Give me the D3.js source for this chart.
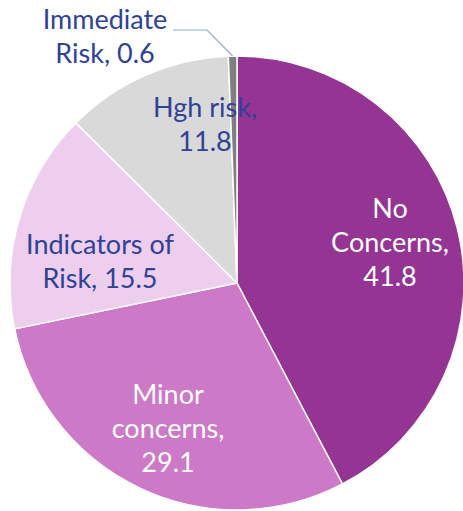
<!DOCTYPE html>
<html><head><meta charset="utf-8">
<script src="https://cdn.jsdelivr.net/npm/d3@7"></script>
<style>body{margin:0;background:#fff}svg{display:block}</style>
</head><body>
<svg id="c" width="463" height="511"></svg>
<script>
const categories = ["No Concerns", "Minor concerns", "Indicators of Risk", "Hgh risk", "Immediate Risk"];
const values = [41.8, 29.1, 15.5, 11.8, 0.6];
const labelLines = [["No", "Concerns,", "41.8"], ["Minor", "concerns,", "29.1"], ["Indicators of", "Risk, 15.5"], ["Hgh risk,", "11.8"], ["Immediate", "Risk, 0.6"]];
const colors = ["#953593", "#CC79C8", "#EDCEEC", "#D9D9D9", "#7F7F7F"];
const textColors = ["#ffffff", "#ffffff", "#2F4296", "#2F4296", "#2F4296"];

const svg = d3.select("#c");
const cx = 237, cy = 283, R = 227;
const g = svg.append("g").attr("transform", `translate(${cx},${cy})`);
const pie = d3.pie().sort(null).value(d => d);
const arcs = pie(values);
const arc = d3.arc().innerRadius(0).outerRadius(R);
g.selectAll("path").data(arcs).enter().append("path")
  .attr("d", arc).attr("fill", (d, i) => colors[i])
  .attr("stroke", "#fff").attr("stroke-width", 1.5).attr("stroke-linejoin", "round");

// label block centres (x centre, mean baseline; page coordinates), tuned to the reference layout
const place = [[390, 252], [168, 438], [100, 271], [205, 133.5], [105, 46]];
const lh = 34, fs = 27;
const font = "Lato, 'Open Sans', sans-serif";
arcs.forEach((d, i) => {
  const x = place[i][0] - cx, y = place[i][1] - cy;
  const lines = labelLines[i];
  const t = g.append("text").attr("text-anchor", "middle")
    .attr("font-family", font).attr("font-size", fs)
    .attr("fill", textColors[i]);
  const y0 = y - (lines.length - 1) * lh / 2;
  lines.forEach((l, k) => {
    t.append("tspan").attr("x", x).attr("y", y0 + k * lh).text(l);
  });
});
// leader line for Immediate Risk
const imm = arcs[4];
const ma = (imm.startAngle + imm.endAngle) / 2;
const px = Math.sin(ma) * R, py = -Math.cos(ma) * R;
g.append("path")
  .attr("d", `M${px},${py}L${207 - cx},${30 - cy}L${173 - cx},${30 - cy}`)
  .attr("fill", "none").attr("stroke", "#8FAADC").attr("stroke-width", 1.2);
</script>
</body></html>
